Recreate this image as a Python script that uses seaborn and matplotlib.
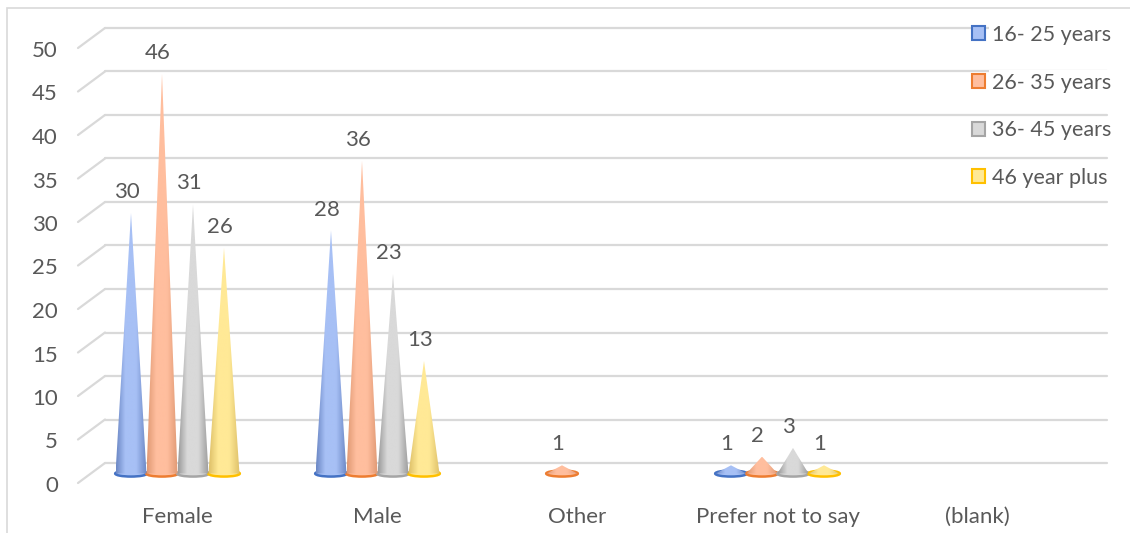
import numpy as np
import pandas as pd
import matplotlib
matplotlib.use('Agg')
import matplotlib.pyplot as plt
from matplotlib.colors import LinearSegmentedColormap
from matplotlib.patches import Polygon, Ellipse, Patch, Rectangle
import seaborn as sns

categories = ['Female', 'Male', 'Other', 'Prefer not to say', '(blank)']
age_groups = ['16- 25 years', '26- 35 years', '36- 45 years', '46 year plus']
age_16_25 = [30, 28, np.nan, 1, np.nan]
age_26_35 = [46, 36, 1, 2, np.nan]
age_36_45 = [31, 23, np.nan, 3, np.nan]
age_46_plus = [26, 13, np.nan, 1, np.nan]
y_ticks = list(range(0, 51, 5))

edge_colors = ['#4472C4', '#ED7D31', '#A5A5A5', '#FFC000']
light_colors = ['#A7C0F5', '#FFBE9E', '#D9D9D9', '#FFE996']
dark_colors = ['#6A86C4', '#E09873', '#9A9A9A', '#DEC068']
text_color = '#595959'
grid_color = '#D9D9D9'

df = pd.DataFrame({'category': categories * 4,
                   'age': np.repeat(age_groups, len(categories)),
                   'count': age_16_25 + age_26_35 + age_36_45 + age_46_plus})

sns.set_style('white')
plt.rcParams['font.family'] = ['Lato', 'DejaVu Sans']

W, H = 1130, 533
fig = plt.figure(figsize=(W / 100, H / 100), dpi=100)
fig.patches.append(Rectangle((7 / W, -0.05), 1.1, (H - 8) / H + 0.05, transform=fig.transFigure,
                             facecolor='none', edgecolor=grid_color, lw=1.2))
ax = fig.add_axes([77.5 / W, (H - 474) / H, 1000 / W, 435 / H])
ppu = 435 / 50  # pixels per unit

sns.barplot(data=df, x='category', y='count', hue='age', order=categories, hue_order=age_groups,
            width=0.62, errorbar=None, legend=False, ax=ax)

# turn the bars into cones
for i, cont in enumerate(ax.containers):
    cmap = LinearSegmentedColormap.from_list('c%d' % i, [(0, dark_colors[i]), (0.3, light_colors[i]),
                                                         (0.65, light_colors[i]), (1, dark_colors[i])])
    for bar in cont:
        h = bar.get_height()
        if not np.isfinite(h) or h <= 0:
            continue
        x0, w = bar.get_x(), bar.get_width()
        xc = x0 + w / 2
        bar.set_visible(False)
        ax.add_patch(Ellipse((xc, 0.05), w * 1.02, 6 / ppu, facecolor=light_colors[i],
                             edgecolor=edge_colors[i], lw=1.8, zorder=2, clip_on=False))
        tri = Polygon([[x0, 0.05], [x0 + w, 0.05], [xc, h]], closed=True, transform=ax.transData,
                      facecolor='none', edgecolor='none')
        ax.add_patch(tri)
        im = ax.imshow(np.linspace(0, 1, 256).reshape(1, -1), cmap=cmap, extent=[x0, x0 + w, 0.05, h],
                       aspect='auto', origin='lower', zorder=3, interpolation='bilinear')
        im.set_clip_path(tri)
        ax.annotate('%d' % h, (xc, h), xytext=(-3, 15), textcoords='offset points',
                    ha='center', va='center', fontsize=16, color=text_color)

ax.set_xlim(-0.5, 4.5)
ax.set_ylim(0, 50)

# back wall gridlines and floor diagonals
blend = ax.get_yaxis_transform()
for v in y_ticks:
    yb = v + 11 / ppu
    yf = v - 9 / ppu
    ax.plot([0.0275, 1.0295], [yb, yb], transform=blend, color=grid_color, lw=1.6, zorder=0, clip_on=False)
    ax.plot([0.0005, 0.0275], [yf, yb], transform=blend, color=grid_color, lw=1.6, zorder=0, clip_on=False)
    ax.text(-0.0195, yf - 3 / ppu, str(v), transform=blend, ha='right', va='center', fontsize=16,
            color=text_color)

ax.set_yticks([])
ax.set_xlabel('')
ax.set_ylabel('')
ax.tick_params(axis='x', length=0, pad=24, labelsize=16, labelcolor=text_color)
sns.despine(ax=ax, left=True, bottom=True)
ax.set_facecolor('none')

handles = [Patch(facecolor=light_colors[i], edgecolor=edge_colors[i], lw=1.5) for i in range(4)]
leg = fig.legend(handles, age_groups, loc='upper left', bbox_to_anchor=(972 / W, (H - 25) / H),
                 frameon=False, fontsize=15.5, labelcolor=text_color, borderpad=0, borderaxespad=0,
                 handlelength=0.62, handleheight=0.62, handletextpad=0.3, labelspacing=1.28)
for t in leg.get_texts():
    t.set_bbox(dict(facecolor='white', edgecolor='none', pad=2))

plt.savefig('out.png', dpi=100)
